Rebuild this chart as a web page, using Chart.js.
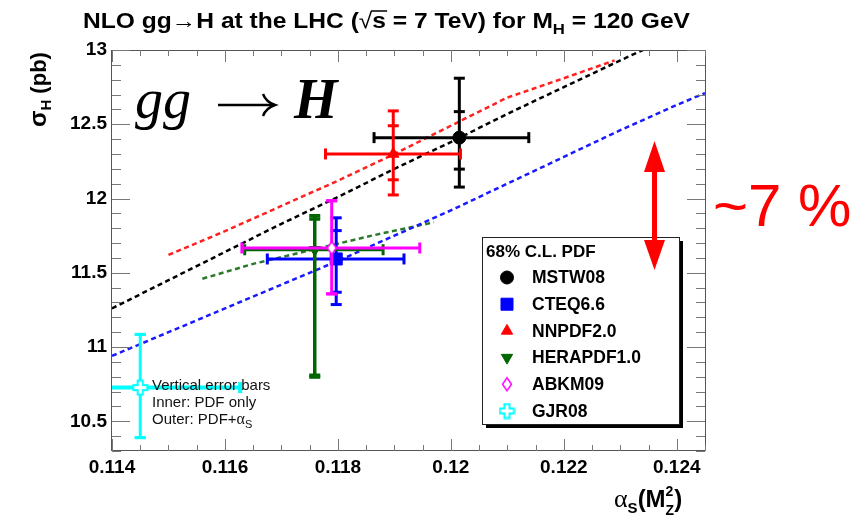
<!DOCTYPE html>
<html>
<head>
<meta charset="utf-8">
<title>NLO gg→H at the LHC</title>
<script src="https://cdn.jsdelivr.net/npm/chart.js@4.4.1/dist/chart.umd.min.js"></script>
<style>
  html, body { margin: 0; padding: 0; background: #fff; }
  #chart { display: block; }
</style>
</head>
<body>
<canvas id="chart" width="861" height="520"></canvas>
<script>
/* global Chart */

// axis ranges and labelled ticks
const xRange = [0.114, 0.1245];
const yRange = [10.3, 13];
const xTickValues = [0.114, 0.116, 0.118, 0.12, 0.122, 0.124];
const yTickValues = [10.5, 11, 11.5, 12, 12.5, 13];

// PDF sets: central value, alpha_s range, inner (PDF) and outer (PDF+alpha_s) sigma bands
const pdfNames = ["MSTW08", "CTEQ6.6", "NNPDF2.0", "HERAPDF1.0", "ABKM09", "GJR08"];
const pdfColors = ["#000000", "#0000ff", "#ff0000", "#006600", "#ff00ff", "#00ffff"];
const alphaS = [0.12015, 0.11797, 0.11898, 0.11759, 0.11789, 0.11450];
const sigma = [12.41, 11.593, 12.30, 11.655, 11.667, 10.727];
const alphaLo = [0.11864, 0.11675, 0.11778, 0.11635, 0.11630, 0.11270];
const alphaHi = [0.12138, 0.11917, 0.12017, 0.11880, 0.11945, 0.11627];
const sigmaInLo = [12.198, 11.369, 12.126, 10.81, 11.358, 10.39];
const sigmaInHi = [12.585, 11.784, 12.490, 11.862, 11.985, 11.085];
const sigmaOutLo = [12.077, 11.286, 12.024, 10.798, 11.358, 10.39];
const sigmaOutHi = [12.810, 11.870, 12.590, 11.884, 11.985, 11.085];

// sigma(alpha_s) curves, dashed
const mstwCurveA = [0.114, 0.115, 0.116, 0.117, 0.118, 0.119, 0.120, 0.121, 0.122, 0.123, 0.1234];
const mstwCurveS = [11.26, 11.45, 11.64, 11.83, 12.01, 12.20, 12.38, 12.57, 12.75, 12.93, 13.00];
const nnpdfCurveA = [0.115, 0.116, 0.117, 0.118, 0.119, 0.120, 0.121, 0.122, 0.1229];
const nnpdfCurveS = [11.62, 11.78, 11.95, 12.12, 12.30, 12.49, 12.68, 12.81, 12.93];
const cteqCurveA = [0.114, 0.115, 0.116, 0.117, 0.118, 0.119, 0.120, 0.121, 0.122, 0.123, 0.124, 0.1245];
const cteqCurveS = [10.94, 11.10, 11.26, 11.42, 11.58, 11.75, 11.92, 12.10, 12.28, 12.46, 12.63, 12.71];
const heraCurveA = [0.1156, 0.1165, 0.1176, 0.1186, 0.1197];
const heraCurveS = [11.46, 11.56, 11.66, 11.75, 11.84];

const SANS = "'Liberation Sans', Arial, sans-serif";
const SERIF = "'Liberation Serif', 'Times New Roman', serif";

function zip(a, s) { return a.map((v, i) => ({ x: v, y: s[i] })); }

function makeDiamond(color) {
  const c = document.createElement("canvas");
  c.width = 12; c.height = 16;
  const g = c.getContext("2d");
  g.beginPath();
  g.moveTo(6, 1.5); g.lineTo(10.5, 8); g.lineTo(6, 14.5); g.lineTo(1.5, 8); g.closePath();
  g.fillStyle = "#fff"; g.fill();
  g.strokeStyle = color; g.lineWidth = 1.5; g.stroke();
  return c;
}
function makeOpenCross(color) {
  const c = document.createElement("canvas");
  c.width = 17; c.height = 17;
  const g = c.getContext("2d");
  const m = 8.5, a = 2.6, L = 7;
  g.beginPath();
  g.moveTo(m - a, m - L); g.lineTo(m + a, m - L); g.lineTo(m + a, m - a); g.lineTo(m + L, m - a);
  g.lineTo(m + L, m + a); g.lineTo(m + a, m + a); g.lineTo(m + a, m + L); g.lineTo(m - a, m + L);
  g.lineTo(m - a, m + a); g.lineTo(m - L, m + a); g.lineTo(m - L, m - a); g.lineTo(m - a, m - a);
  g.closePath();
  g.fillStyle = "#fff"; g.fill();
  g.strokeStyle = color; g.lineWidth = 2; g.stroke();
  return c;
}

const markerStyles = [
  { pointStyle: "circle", radius: 6.5, rotation: 0 },
  { pointStyle: "rect", radius: 8.5, rotation: 0 },
  { pointStyle: "triangle", radius: 6.5, rotation: 0 },
  { pointStyle: "triangle", radius: 6.5, rotation: 180 },
  { pointStyle: makeDiamond("#ff00ff"), radius: 6, rotation: 0 },
  { pointStyle: makeOpenCross("#00ffff"), radius: 7, rotation: 0 }
];

function curve(a, s, color) {
  return {
    type: "line", data: zip(a, s), showLine: true, order: 2,
    borderColor: color, borderWidth: 2.5, borderDash: [5, 3.5],
    pointRadius: 0, fill: false, tension: 0
  };
}

const datasets = [
  curve(nnpdfCurveA, nnpdfCurveS, "#ff2020"),
  curve(mstwCurveA, mstwCurveS, "#000000"),
  curve(cteqCurveA, cteqCurveS, "#1a1aff"),
  curve(heraCurveA, heraCurveS, "#2a7a2a")
];
// draw GJR08 first, MSTW08 last
for (let i = pdfNames.length - 1; i >= 0; i--) {
  const filled = i < 4;
  datasets.push({
    label: pdfNames[i], pdf: i, order: 1,
    data: [{ x: alphaS[i], y: sigma[i] }],
    pointStyle: markerStyles[i].pointStyle,
    pointRadius: markerStyles[i].radius,
    pointRotation: markerStyles[i].rotation,
    backgroundColor: filled ? pdfColors[i] : "#fff",
    borderColor: pdfColors[i], borderWidth: 1, showLine: false
  });
}

function seg(ctx, x1, y1, x2, y2) {
  ctx.beginPath(); ctx.moveTo(x1, y1); ctx.lineTo(x2, y2); ctx.stroke();
}

const errorBars = {
  id: "errorBars",
  beforeDatasetDraw(chart, args) {
    const ds = chart.data.datasets[args.index];
    if (ds.pdf === undefined) return;
    const i = ds.pdf;
    const { ctx, chartArea: a } = chart;
    const { x, y } = chart.scales;
    const cx = x.getPixelForValue(alphaS[i]);
    const cy = y.getPixelForValue(sigma[i]);
    const xl = x.getPixelForValue(alphaLo[i]);
    const xr = x.getPixelForValue(alphaHi[i]);
    const c = 5.5;
    ctx.save();
    ctx.beginPath();
    ctx.rect(a.left, a.top, a.right - a.left, a.bottom - a.top);
    ctx.clip();
    ctx.strokeStyle = pdfColors[i];
    ctx.lineWidth = i === 5 ? 4 : 3;
    seg(ctx, xl, cy, xr, cy);
    seg(ctx, xl, cy - c, xl, cy + c);
    seg(ctx, xr, cy - c, xr, cy + c);
    ctx.lineWidth = i === 3 ? 3.5 : 3;
    const yo1 = y.getPixelForValue(sigmaOutLo[i]);
    const yo2 = y.getPixelForValue(sigmaOutHi[i]);
    seg(ctx, cx, yo1, cx, yo2);
    [sigmaOutLo[i], sigmaOutHi[i], sigmaInLo[i], sigmaInHi[i]].forEach((v) => {
      const py = y.getPixelForValue(v);
      seg(ctx, cx - c, py, cx + c, py);
    });
    ctx.restore();
  }
};

function drawPieces(ctx, x, baseline, pieces) {
  let px = x;
  pieces.forEach((p) => {
    ctx.font = p.font;
    ctx.fillText(p.t, px, baseline + (p.dy || 0));
    const w = ctx.measureText(p.t).width;
    if (p.over) seg(ctx, px - 1, baseline - p.over, px + w + 1, baseline - p.over);
    if (!p.noAdvance) px += w;
  });
  return px;
}

const decorations = {
  id: "decorations",
  afterDatasetsDraw(chart) {
    const { ctx } = chart;
    ctx.save();
    ctx.fillStyle = "#000";
    ctx.textBaseline = "alphabetic";
    ctx.textAlign = "left";

    // big gg -> H
    ctx.font = "italic 56px " + SERIF;
    ctx.fillText("gg", 135, 118);
    ctx.strokeStyle = "#000";
    ctx.lineWidth = 2.4;
    seg(ctx, 218, 105, 273, 105);
    ctx.beginPath();
    ctx.moveTo(263, 94); ctx.quadraticCurveTo(266, 102, 275, 105);
    ctx.quadraticCurveTo(266, 108, 263, 116);
    ctx.stroke();
    ctx.font = "italic bold 56px " + SERIF;
    ctx.fillText("H", 294, 118);

    // note at bottom left
    ctx.font = "15px " + SANS;
    ctx.fillStyle = "#111";
    ctx.fillText("Vertical error bars", 152, 390);
    ctx.fillText("Inner: PDF only", 152, 407);
    drawPieces(ctx, 152, 424, [
      { t: "Outer: PDF+", font: "15px " + SANS },
      { t: "α", font: "16px " + SERIF },
      { t: "S", font: "11px " + SANS, dy: 4 }
    ]);

    // legend
    const L = { l: 482, t: 237, r: 679, b: 424 };
    ctx.fillStyle = "#000";
    ctx.fillRect(L.l + 4, L.t + 4, L.r - L.l, L.b - L.t);
    ctx.fillStyle = "#fff";
    ctx.fillRect(L.l, L.t, L.r - L.l, L.b - L.t);
    ctx.strokeStyle = "#222";
    ctx.lineWidth = 1;
    ctx.strokeRect(L.l + 0.5, L.t + 0.5, L.r - L.l, L.b - L.t);
    ctx.fillStyle = "#000";
    ctx.font = "bold 17px " + SANS;
    ctx.textBaseline = "middle";
    ctx.fillText("68% C.L. PDF", 486, 252);
    pdfNames.forEach((name, i) => {
      const ry = 277.5 + i * 26.7;
      const m = markerStyles[i];
      ctx.fillStyle = i < 4 ? pdfColors[i] : "#fff";
      ctx.strokeStyle = pdfColors[i];
      ctx.lineWidth = 1;
      Chart.helpers.drawPoint(ctx, {
        pointStyle: m.pointStyle, radius: m.radius, rotation: m.rotation, borderWidth: 1
      }, 507, ry);
      ctx.fillStyle = "#000";
      ctx.font = "bold 17.5px " + SANS;
      ctx.fillText(name, 532, ry + 1);
    });

    // double arrow and ~7 %
    ctx.fillStyle = "#ff0000";
    ctx.fillRect(652, 168, 5, 76);
    ctx.beginPath();
    ctx.moveTo(654.5, 141); ctx.lineTo(665, 172); ctx.lineTo(644, 172); ctx.closePath();
    ctx.fill();
    ctx.beginPath();
    ctx.moveTo(654.5, 270); ctx.lineTo(665, 240); ctx.lineTo(644, 240); ctx.closePath();
    ctx.fill();
    ctx.textBaseline = "alphabetic";
    ctx.font = "60px " + SANS;
    ctx.fillText("~7 %", 713, 226);

    ctx.restore();
  },
  afterDraw(chart) {
    const { ctx, chartArea: a } = chart;
    const { x, y } = chart.scales;
    ctx.save();
    // frame
    ctx.strokeStyle = "#555";
    ctx.lineWidth = 1;
    ctx.strokeRect(Math.round(a.left) - 0.5, Math.round(a.top) + 0.5,
      Math.round(a.right - a.left) + 1, Math.round(a.bottom - a.top) - 1);
    // ticks on all four sides, pointing inward
    ctx.strokeStyle = "#777";
    for (let k = 0; k <= 21; k++) {
      const px = Math.round(x.getPixelForValue(xRange[0] + k * 0.0005)) + 0.5;
      const len = k % 4 === 0 ? 12 : 6;
      seg(ctx, px, a.bottom, px, a.bottom - len);
      seg(ctx, px, a.top, px, a.top + len);
    }
    for (let k = 0; k <= 27; k++) {
      const py = Math.round(y.getPixelForValue(yRange[0] + k * 0.1)) + 0.5;
      const len = (k + 3) % 5 === 0 ? 18 : 9;
      seg(ctx, a.left, py, a.left + len, py);
      seg(ctx, a.right, py, a.right - len, py);
    }

    ctx.fillStyle = "#000";
    ctx.strokeStyle = "#000";
    ctx.textBaseline = "alphabetic";
    ctx.textAlign = "left";

    // title, squeezed to the reference width
    const T = "bold 22px " + SANS;
    const TS = "bold 15px " + SANS;
    const pieces = [
      { t: "NLO gg→H at the LHC (", font: T },
      { t: "√", font: "22px " + SANS },
      { t: "s", font: T, over: 17 },
      { t: " = 7 TeV) for M", font: T },
      { t: "H", font: TS, dy: 6 },
      { t: " = 120 GeV", font: T }
    ];
    let w = 0;
    pieces.forEach((p) => { ctx.font = p.font; w += ctx.measureText(p.t).width; });
    ctx.save();
    ctx.translate(83, 0);
    ctx.scale(607 / w, 1);
    ctx.lineWidth = 1.5;
    drawPieces(ctx, 0, 28, pieces);
    ctx.restore();

    // y axis title
    ctx.save();
    ctx.translate(46, 127);
    ctx.rotate(-Math.PI / 2);
    drawPieces(ctx, 0, 0, [
      { t: "σ", font: "bold 24px " + SANS },
      { t: "H", font: "bold 15px " + SANS, dy: 5 },
      { t: " (pb)", font: "bold 22px " + SANS }
    ]);
    ctx.restore();

    // x axis title
    drawPieces(ctx, 614, 507, [
      { t: "α", font: "26px " + SERIF },
      { t: "S", font: "bold 15px " + SANS, dy: 6 },
      { t: "(M", font: "bold 24px " + SANS },
      { t: "2", font: "bold 14px " + SANS, dy: -11, noAdvance: true },
      { t: "Z", font: "bold 14px " + SANS, dy: 8 },
      { t: ")", font: "bold 24px " + SANS }
    ]);
    ctx.restore();
  }
};

const tickFont = { family: SANS, size: 19, weight: "bold" };
const fmt = (v) => String(+Number(v).toFixed(4));

new Chart(document.getElementById("chart"), {
  type: "scatter",
  data: { datasets },
  options: {
    responsive: false,
    animation: false,
    layout: { padding: { top: 50, right: 156, left: 0, bottom: 0 } },
    plugins: { legend: { display: false }, title: { display: false }, tooltip: { enabled: false } },
    scales: {
      x: {
        type: "linear", min: xRange[0], max: xRange[1],
        afterBuildTicks: (s) => { s.ticks = xTickValues.map((v) => ({ value: v })); },
        afterFit: (s) => { s.height = 69; },
        grid: { display: false, drawTicks: false },
        border: { display: false },
        ticks: { font: tickFont, color: "#000", padding: 5, maxRotation: 0, autoSkip: false, callback: fmt }
      },
      y: {
        type: "linear", min: yRange[0], max: yRange[1],
        afterBuildTicks: (s) => { s.ticks = yTickValues.map((v) => ({ value: v })); },
        afterFit: (s) => { s.width = 112; },
        grid: { display: false, drawTicks: false },
        border: { display: false },
        ticks: { font: tickFont, color: "#000", padding: 5, autoSkip: false, callback: fmt }
      }
    }
  },
  plugins: [errorBars, decorations]
});
</script>
</body>
</html>
